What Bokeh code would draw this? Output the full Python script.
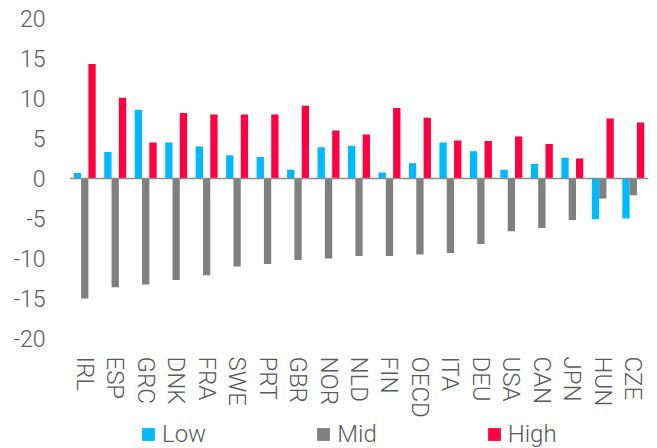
from bokeh.plotting import figure
from bokeh.layouts import column
from bokeh.models import FactorRange, FixedTicker, Span, Legend, LegendItem, ColumnDataSource
from bokeh.transform import dodge
from bokeh.embed import file_html
from bokeh.resources import INLINE

countries = ["IRL", "ESP", "GRC", "DNK", "FRA", "SWE", "PRT", "GBR", "NOR", "NLD",
             "FIN", "OECD", "ITA", "DEU", "USA", "CAN", "JPN", "HUN", "CZE"]
low = [0.7, 3.3, 8.6, 4.5, 4.0, 2.9, 2.7, 1.1, 3.9, 4.1,
       0.75, 1.9, 4.5, 3.4, 1.1, 1.8, 2.6, -5.1, -5.0]
mid = [-15.0, -13.6, -13.25, -12.7, -12.1, -11.0, -10.7, -10.2, -10.0, -9.7,
       -9.7, -9.5, -9.3, -8.2, -6.6, -6.2, -5.2, -2.5, -2.1]
high = [14.3, 10.1, 4.5, 8.2, 8.0, 8.0, 8.0, 9.1, 6.0, 5.5,
        8.8, 7.6, 4.75, 4.7, 5.25, 4.3, 2.5, 7.5, 7.0]
series = ["Low", "Mid", "High"]
y_ticks = [-20, -15, -10, -5, 0, 5, 10, 15, 20]

FONT = "Roboto Light"
TEXT = "#595959"
COLORS = ["#00B9FF", "#808080", "#FF0041"]

src = ColumnDataSource(dict(country=countries, low=low, mid=mid, high=high))

p = figure(frame_width=579, frame_height=320,
           x_range=FactorRange(*countries, range_padding=0),
           y_range=(-20, 20),
           output_backend="svg", toolbar_location=None,
           min_border_left=69, min_border_right=9,
           min_border_top=18, min_border_bottom=20)
p.outline_line_color = None
p.grid.grid_line_color = None

bw = 0.24
for col, off, color in zip(["low", "mid", "high"], [-bw, 0, bw], COLORS):
    p.vbar(x=dodge("country", off, range=p.x_range), top=col, bottom=0, width=bw,
           source=src, fill_color=color, line_color=None)

p.add_layout(Span(location=0, dimension="width", line_color="#8C8C8C", line_width=1.5))

# y axis: labels only, plain hyphen for negatives
p.yaxis.ticker = FixedTicker(ticks=y_ticks)
p.yaxis.major_label_overrides = {t: str(t) for t in y_ticks}
p.yaxis.axis_line_color = None
p.yaxis.major_tick_line_color = None
p.yaxis.minor_tick_line_color = None
p.yaxis.major_label_standoff = 18
p.yaxis.major_label_text_font = FONT
p.yaxis.major_label_text_font_size = "23px"
p.yaxis.major_label_text_color = TEXT

# x axis: rotated country codes
p.xaxis.axis_line_color = None
p.xaxis.major_tick_line_color = None
p.xaxis.minor_tick_line_color = None
p.xaxis.major_label_orientation = "vertical"
p.xaxis.major_label_standoff = 12
p.xaxis.major_label_text_font = FONT
p.xaxis.major_label_text_font_size = "24px"
p.xaxis.major_label_text_color = TEXT

# legend strip underneath the chart (its frame lines up with the chart's frame)
leg = figure(width=657, height=28, x_range=(0, 1), y_range=(0, 1),
             output_backend="svg", toolbar_location=None,
             min_border=0, outline_line_color=None)
leg.axis.visible = False
leg.grid.grid_line_color = None
items = []
for name, color in zip(series, COLORS):
    # zero-height swatch bar, only used for the legend entry
    r = leg.vbar(x=[0.5], top=[0], bottom=0, width=0.1, fill_color=color, line_color=None)
    items.append(LegendItem(label=name, renderers=[r]))

legend = Legend(items=items, orientation="horizontal", location=(71, 0),
                glyph_width=16, glyph_height=16, label_standoff=6, spacing=109,
                padding=0, margin=0, border_line_color=None, background_fill_alpha=0,
                label_text_font=FONT, label_text_font_size="24px", label_text_color=TEXT)
leg.add_layout(legend)

layout = column(p, leg, spacing=0)
open("out.html", "w").write(file_html(layout, INLINE))
